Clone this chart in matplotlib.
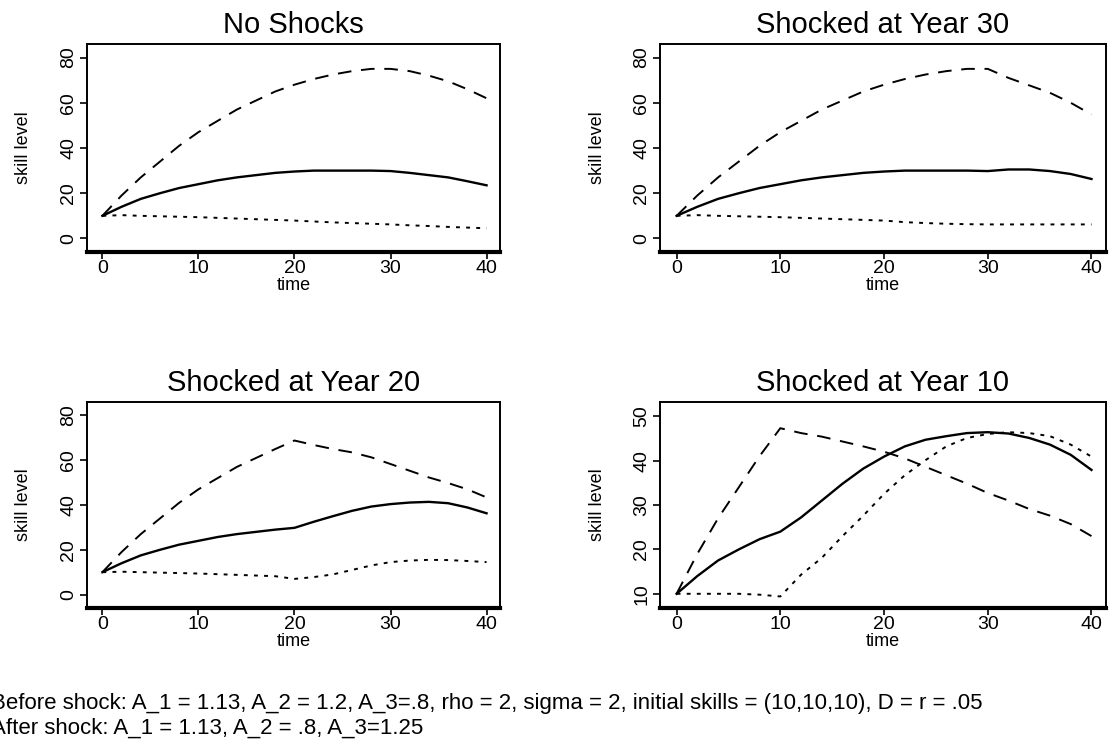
import matplotlib
matplotlib.use("Agg")
import matplotlib.pyplot as plt

plt.rcParams['font.family'] = ['Liberation Sans', 'DejaVu Sans']

# время (годы)
time = [0, 2, 4, 6, 8, 10, 12, 14, 16, 18, 20, 22, 24, 26, 28, 30, 32, 34, 36, 38, 40]

# Без шоков
none_solid = [10, 14, 17.5, 20, 22.3, 24, 25.7, 27, 28, 29, 29.6, 30, 30, 30, 30, 29.8, 29, 28, 27, 25.3, 23.5]
none_dashed = [10, 19, 27, 34, 41, 47, 52, 57, 61, 65, 68, 70.5, 72.5, 74, 75, 75, 74, 72, 69.5, 66, 62]
none_dotted = [10, 10.3, 10, 9.8, 9.6, 9.4, 9.1, 8.8, 8.5, 8.2, 7.9, 7.5, 7.1, 6.8, 6.5, 6.2, 5.8, 5.5, 5.1, 4.8, 4.5]

# Шок на 30-м году
y30_solid = [10, 14, 17.5, 20, 22.3, 24, 25.7, 27, 28, 29, 29.6, 30, 30, 30, 30, 29.8, 30.5, 30.5, 29.8, 28.5, 26.3]
y30_dashed = [10, 19, 27, 34, 41, 47, 52, 57, 61, 65, 68, 70.5, 72.5, 74, 75, 75, 71, 67.7, 64.4, 60, 54.8]
y30_dotted = [10, 10.3, 10, 9.8, 9.6, 9.4, 9.1, 8.8, 8.5, 8.2, 7.9, 7.2, 6.8, 6.5, 6.3, 6.2, 6.2, 6.2, 6.2, 6.2, 6.2]

# Шок на 20-м году
y20_solid = [10, 14, 17.5, 20, 22.3, 24, 25.7, 27, 28, 29, 29.8, 32.5, 35, 37.4, 39.3, 40.4, 41.1, 41.4, 40.8, 38.9, 36.3]
y20_dashed = [10, 19, 27, 34, 41, 47, 52, 57, 61, 65, 68.8, 66.8, 65, 63.5, 61.3, 58.3, 55.3, 52.3, 49.8, 47, 43.4]
y20_dotted = [10, 10.2, 10, 9.8, 9.6, 9.4, 9.1, 8.8, 8.5, 8.2, 7, 7.8, 9, 11, 13, 14.5, 15.2, 15.5, 15.4, 15, 14.5]

# Шок на 10-м году
y10_solid = [10, 14, 17.5, 20, 22.3, 24, 27.2, 31, 34.8, 38.2, 40.9, 43.2, 44.7, 45.5, 46.2, 46.4, 46.1, 45.1, 43.6, 41.3, 37.9]
y10_dashed = [10, 19, 27, 34, 41, 47.3, 46.2, 45.4, 44.3, 43.2, 42, 40.5, 38.6, 36.7, 34.8, 32.7, 31, 29.1, 27.6, 25.7, 23]
y10_dotted = [10, 10, 10, 10, 9.8, 9.4, 14.3, 18.1, 23, 27.6, 32.5, 36.7, 40.1, 43.2, 45.1, 46, 46.4, 46.2, 45.5, 43.6, 40.9]

titles = ['No Shocks', 'Shocked at Year 30', 'Shocked at Year 20', 'Shocked at Year 10']
xticks = [0, 10, 20, 30, 40]
yticks_80 = [0, 20, 40, 60, 80]
yticks_50 = [10, 20, 30, 40, 50]

note1 = 'Before shock: A_1 = 1.13, A_2 = 1.2, A_3=.8, rho = 2, sigma = 2, initial skills = (10,10,10), D = r = .05'
note2 = 'After shock: A_1 = 1.13, A_2 = .8, A_3=1.25'

W, H = 1109, 748
fig = plt.figure(figsize=(W / 100, H / 100), dpi=100)


def box(x0, x1, y0, y1):
    return [x0 / W, 1 - y1 / H, (x1 - x0) / W, (y1 - y0) / H]


def draw(ax, title, solid, dashed, dotted, yticks, ylim):
    ax.plot(time, solid, color='black', lw=1.7, ls='-')
    ax.plot(time, dashed, color='black', lw=1.4, dashes=(7, 5))
    ax.plot(time, dotted, color='black', lw=1.4, dashes=(2, 3.2))
    ax.set_xlim(-1.6, 41.4)
    ax.set_ylim(*ylim)
    ax.set_xticks(xticks)
    ax.set_yticks(yticks)
    ax.tick_params(direction='out', length=5, width=1.2, labelsize=14, colors='black')
    ax.tick_params(axis='x', pad=1)
    ax.tick_params(axis='y', pad=2)
    for lab in ax.get_yticklabels():
        lab.set_rotation(90)
        lab.set_va('center')
    for side in ['top', 'right', 'left']:
        ax.spines[side].set_linewidth(1.4)
    ax.spines['bottom'].set_linewidth(3)
    ax.set_title(title, fontsize=21, pad=8)
    ax.set_xlabel('time', fontsize=13, labelpad=0)
    ax.set_ylabel('skill level', fontsize=13, labelpad=20)


ax1 = fig.add_axes(box(87, 500, 44, 252))
draw(ax1, titles[0], none_solid, none_dashed, none_dotted, yticks_80, (-6, 86))
ax2 = fig.add_axes(box(660, 1106, 44, 252))
draw(ax2, titles[1], y30_solid, y30_dashed, y30_dotted, yticks_80, (-6, 86))
ax3 = fig.add_axes(box(87, 500, 402, 608))
draw(ax3, titles[2], y20_solid, y20_dashed, y20_dotted, yticks_80, (-6, 86))
ax4 = fig.add_axes(box(660, 1106, 402, 608))
draw(ax4, titles[3], y10_solid, y10_dashed, y10_dotted, yticks_50, (6.8, 53.2))

fig.text(-0.008, 1 - 704 / H, note1, fontsize=16, va='center', ha='left')
fig.text(-0.008, 1 - 728 / H, note2, fontsize=16, va='center', ha='left')

fig.savefig('out.png', dpi=100)
